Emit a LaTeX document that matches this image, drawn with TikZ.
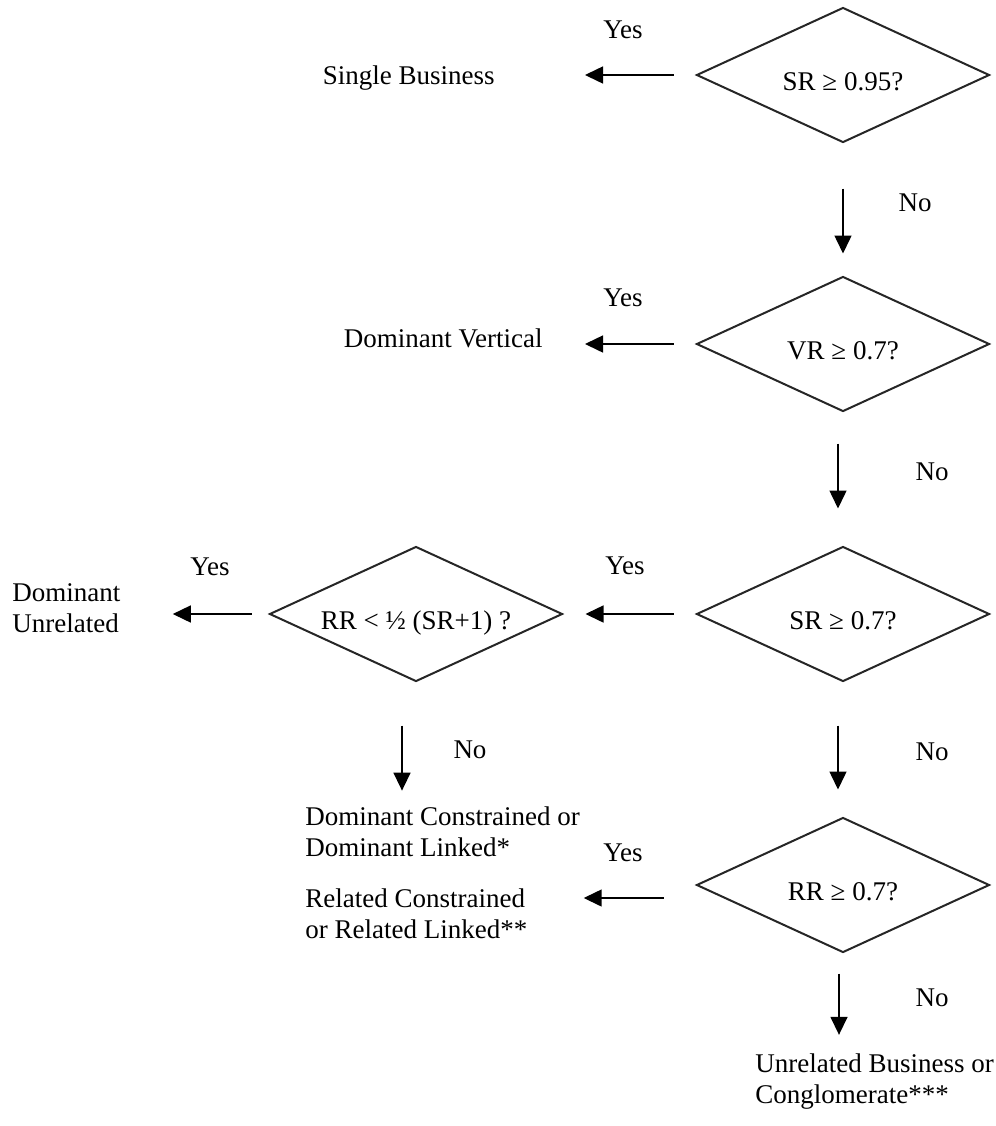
\documentclass[tikz,border=0pt]{standalone}
\usepackage{fontspec}
\setmainfont{Liberation Serif}
\usepackage{tikz}
\usetikzlibrary{positioning, arrows.meta, shapes.geometric, calc}

\begin{document}
\begin{tikzpicture}[x=0.5pt, y=-0.5pt,
  font=\fontsize{13.5pt}{15.5pt}\selectfont,
  decision/.style={diamond, draw=black!85, line width=1pt, aspect=2.17, minimum width=146.5pt, minimum height=67.5pt, inner sep=0pt, text height=16pt, text depth=1pt},
  outcome/.style={align=left, inner sep=0pt},
  lbl/.style={inner sep=0pt},
  arr/.style={-{Triangle[length=9pt, width=8.5pt]}, line width=0.75pt}]
\useasboundingbox (0,0) rectangle (996,1126);
% decisions
\node[decision] (d1) at (843,75) {SR ≥ 0.95?};
\node[decision] (d2) at (843,344) {VR ≥ 0.7?};
\node[decision] (d3) at (843,614) {SR ≥ 0.7?};
\node[decision] (d4) at (416,614) {RR < ½ (SR+1) ?};
\node[decision] (d5) at (843,885) {RR ≥ 0.7?};
% outcomes
\node[outcome, anchor=east] (single) at (495,78) {Single Business};
\node[outcome, anchor=east] (vertical) at (543,338) {Dominant Vertical};
\node[outcome, anchor=west] (domunrel) at (12,608) {Dominant\\Unrelated};
\node[outcome, anchor=west] (domcons) at (305,832) {Dominant Constrained or\\Dominant Linked*};
\node[outcome, anchor=west] (relcons) at (305,914) {Related Constrained\\or Related Linked**};
\node[outcome, anchor=west] (unrel) at (755,1082) {Unrelated Business or\\Conglomerate***};
% yes / no
\node[lbl] (yes1) at (623,30) {Yes};
\node[lbl] (yes2) at (623,298) {Yes};
\node[lbl] (yes3) at (625,566) {Yes};
\node[lbl] (yes4) at (210,567) {Yes};
\node[lbl] (yes5) at (623,853) {Yes};
\node[lbl] (no1) at (915,203) {No};
\node[lbl] (no2) at (932,472) {No};
\node[lbl] (no3) at (470,750) {No};
\node[lbl] (no4) at (932,752) {No};
\node[lbl] (no5) at (932,998) {No};
% yes arrows
\draw[arr, shorten <=11pt, shorten >=45pt] (d1.west) -- (d1.west -| single.east);
\draw[arr, shorten <=11pt, shorten >=21pt] (d2.west) -- (d2.west -| vertical.east);
\draw[arr, shorten <=11pt, shorten >=11pt] (d3.west) -- (d4.east);
\draw[arr, shorten <=8.5pt, shorten >=26pt] (d4.west) -- (d4.west -| domunrel.east);
\draw[arr, shorten <=16pt, shorten >=28pt] ($(d5.west)+(0,13)$) -- ($(d5.west -| relcons.east)+(0,13)$);
% no arrows
\draw[arr, shorten <=22.5pt, shorten >=11pt] (d1.south) -- (d2.north);
\draw[arr, shorten <=15.5pt, shorten >=18.5pt] ($(d2.south)+(-5,0)$) -- ($(d3.north)+(-5,0)$);
\draw[arr, shorten <=21.5pt, shorten >=13.5pt] ($(d3.south)+(-5,0)$) -- ($(d5.north)+(-5,0)$);
\draw[arr, shorten <=21.5pt, shorten >=8pt] ($(d4.south)+(-14,0)$) -- ($(d4.south |- domcons.north)+(-14,0)$);
\draw[arr, shorten <=10pt, shorten >=9.5pt] ($(d5.south)+(-4,0)$) -- ($(d5.south |- unrel.north)+(-4,0)$);
\end{tikzpicture}
\end{document}
